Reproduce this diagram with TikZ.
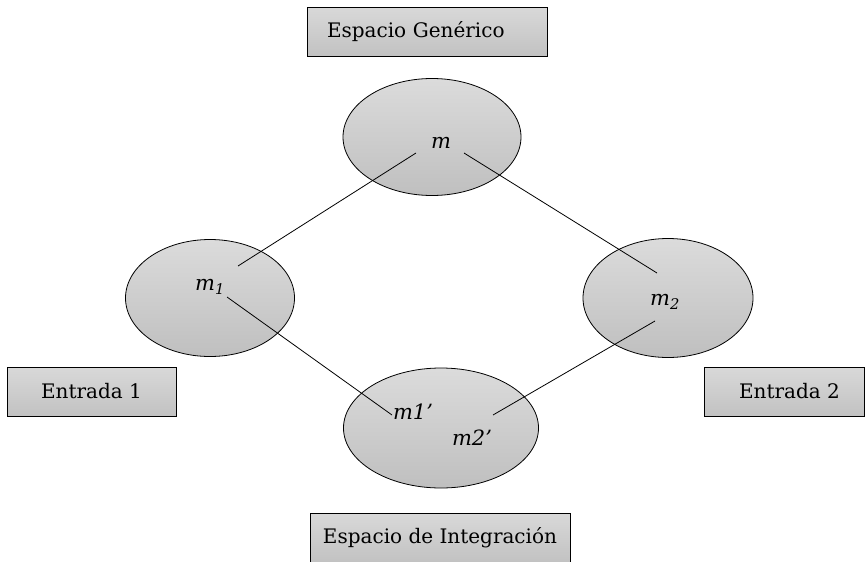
\documentclass[tikz,border=0pt]{standalone}
\usepackage{fontspec}
\setmainfont{DejaVu Serif}
\usetikzlibrary{shapes.geometric}

\begin{document}
\begin{tikzpicture}[x=1pt,y=-1pt,line width=0.8pt]
   \tikzstyle{every node}=[font=\fontsize{20}{24}\selectfont]
   \tikzstyle{espacio}=[ellipse,draw,top color=black!14,bottom color=black!25,inner sep=0pt]
   \tikzstyle{caja}=[rectangle,draw,top color=black!15,bottom color=black!24,minimum height=49pt,inner sep=0pt]
   \tikzstyle{elem}=[font=\fontsize{21}{24}\selectfont\itshape,inner sep=0pt]
   \useasboundingbox (0,0) rectangle (865,562);

   % cajas
   \node[caja,minimum width=240pt,text width=200pt,align=left] (generico) at (427,31.5) {Espacio Genérico};
   \node[caja,minimum width=169pt] (entrada1) at (91.5,391.5) {Entrada 1};
   \node[caja,minimum width=160pt] (entrada2) at (784,391.5) {\hspace*{11pt}Entrada 2};
   \node[caja,minimum width=260pt] (integracion) at (440,537.5) {Espacio de Integración};

   % espacios
   \node[espacio,minimum width=178pt,minimum height=117pt] (gen) at (432,137) {};
   \node[espacio,minimum width=169pt,minimum height=117pt] (in1) at (210,298) {};
   \node[espacio,minimum width=170pt,minimum height=119pt] (in2) at (668,298) {};
   \node[espacio,minimum width=195pt,minimum height=120pt] (int) at (441,428) {};

   % puntos de enlace
   \coordinate (m-a)   at (416,153);
   \coordinate (m-b)   at (464,153);
   \coordinate (m1-a)  at (238,266);
   \coordinate (m1-b)  at (227,297);
   \coordinate (m2-a)  at (657,273);
   \coordinate (m2-b)  at (655,321);
   \coordinate (m1p-a) at (392,415);
   \coordinate (m2p-a) at (493,415);

   \path[draw]
     (m-a)  --  (m1-a)
     (m-b)  --  (m2-a)
     (m1-b) --  (m1p-a)
     (m2-b) --  (m2p-a);

   % elementos
   \node[elem] (m)   at (441,143) {m};
   \node[elem] (m1)  at (210,287) {m\textsubscript{1}};
   \node[elem] (m2)  at (665,302) {m\textsubscript{2}};
   \node[elem] (m1p) at (413,412) {m1’};
   \node[elem] (m2p) at (472,438) {m2’};
\end{tikzpicture}
\end{document}
